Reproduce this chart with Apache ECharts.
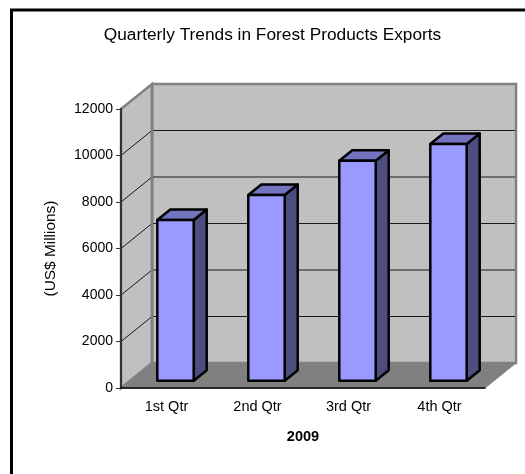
<!DOCTYPE html>
<html><head><meta charset="utf-8">
<style>html,body{margin:0;padding:0;background:#fff}#c{width:525px;height:474px}</style>
<script src="https://cdn.jsdelivr.net/npm/echarts@6/dist/echarts.min.js"></script>
</head><body><div id="c"></div>
<script>
const titleText = 'Quarterly Trends in Forest Products Exports';
const categories = ['1st Qtr', '2nd Qtr', '3rd Qtr', '4th Qtr'];
const exportsValues = [6910, 7990, 9460, 10180];
const yTicks = [0, 2000, 4000, 6000, 8000, 10000, 12000];
const yName = '(US$ Millions)';
const xName = '2009';

const DX = 31, DY = -25;        // depth of the floor
const BDX = 9, BDY = -7.3;      // bar front set back from the front edge
const SDX = 13, SDY = -10.5;    // bar depth
const FONT = '"Liberation Sans", Arial, sans-serif';

function renderWalls(params, api) {
  const band = api.size([1, 0])[0];
  const x0 = api.coord([0, 0])[0] - band / 2;
  const x1 = x0 + band * categories.length;
  const yB = api.coord([0, 0])[1];
  const yT = api.coord([0, 12000])[1];
  const poly = (pts, fill, stroke, lw) => ({
    type: 'polygon', shape: { points: pts },
    style: { fill: fill, stroke: stroke || null, lineWidth: lw || 0 }
  });
  const line = (pts, stroke, lw) => ({
    type: 'polyline', shape: { points: pts },
    style: { fill: null, stroke: stroke, lineWidth: lw }
  });
  const children = [
    poly([[x0 + DX, yT + DY], [x1 + DX, yT + DY], [x1 + DX, yB + DY], [x0 + DX, yB + DY]], '#c0c0c0', '#808080', 2.5),
    poly([[x0, yT], [x0 + DX, yT + DY], [x0 + DX, yB + DY], [x0, yB]], '#c0c0c0', '#808080', 2.5),
    poly([[x0, yB], [x0 + DX, yB + DY], [x1 + DX, yB + DY], [x1, yB]], '#808080', '#808080', 1)
  ];
  yTicks.slice(1, -1).forEach(v => {
    const y = api.coord([0, v])[1];
    children.push(line([[x0, y], [x0 + DX, y + DY], [x1 + DX - 1, y + DY]], '#1a1a1a', 1));
  });
  children.push(line([[x0 + DX, yT + DY], [x0 + DX, yB + DY]], '#808080', 2.5));
  return { type: 'group', children: children };
}

function renderBar(params, api) {
  const idx = api.value(0);
  const band = api.size([1, 0])[0];
  const w = band * 0.4;
  const c = api.coord([idx, api.value(1)]);
  const b = api.coord([idx, 0]);
  const l = c[0] - w / 2 + BDX, r = l + w;
  const t = c[1] + BDY, bt = b[1] + BDY;
  const st = { stroke: '#000', lineWidth: 2.5, lineJoin: 'round' };
  return { type: 'group', children: [
    { type: 'polygon', shape: { points: [[r, t], [r + SDX, t + SDY], [r + SDX, bt + SDY], [r, bt]] },
      style: Object.assign({ fill: '#4d4d80' }, st) },
    { type: 'polygon', shape: { points: [[l, t], [l + SDX, t + SDY], [r + SDX, t + SDY], [r, t]] },
      style: Object.assign({ fill: '#7373bf' }, st) },
    { type: 'polygon', shape: { points: [[l, t], [r, t], [r, bt], [l, bt]] },
      style: Object.assign({ fill: '#9999ff' }, st) }
  ] };
}

const chart = echarts.init(document.getElementById('c'), null, { renderer: 'canvas' });
chart.setOption({
  animation: false,
  backgroundColor: '#fff',
  textStyle: { fontFamily: FONT, color: '#000' },
  title: { text: titleText, left: 267.5, top: 22, textAlign: 'center',
    textStyle: { fontFamily: FONT, fontSize: 17.3, fontWeight: 'normal', color: '#000' } },
  grid: { left: 121, right: 40, top: 109, bottom: 86 },
  xAxis: {
    type: 'category', data: categories, z: 2,
    name: xName, nameLocation: 'middle', nameGap: 41,
    nameTextStyle: { fontFamily: FONT, fontSize: 14.5, fontWeight: 'bold', color: '#000' },
    axisLine: { onZero: false, lineStyle: { color: '#000', width: 1.5 } },
    axisTick: { alignWithLabel: false, length: 5, lineStyle: { color: '#333', width: 1 } },
    axisLabel: { fontFamily: FONT, fontSize: 14.5, color: '#000', margin: 11 },
    splitLine: { show: false }
  },
  yAxis: {
    type: 'value', min: 0, max: 12000, interval: 2000, z: 2,
    name: yName, nameLocation: 'middle', nameGap: 63, nameRotate: 90,
    nameTextStyle: { fontFamily: FONT, fontSize: 15.4, color: '#000' },
    axisLine: { show: true, lineStyle: { color: '#333', width: 2 } },
    axisTick: { show: true, length: 5, lineStyle: { color: '#333', width: 1 } },
    axisLabel: { fontFamily: FONT, fontSize: 14, color: '#000', margin: 8, formatter: v => String(v) },
    splitLine: { show: false }
  },
  graphic: [
    { type: 'polyline', silent: true, shape: { points: [[11.5, 474], [11.5, 10], [525, 10]] },
      style: { fill: null, stroke: '#000', lineWidth: 3 } }
  ],
  series: [
    { type: 'custom', name: 'walls', renderItem: renderWalls, data: [[0, 0]], clip: false, z: 1, silent: true },
    { type: 'custom', name: 'Exports', renderItem: renderBar, clip: false, z: 3, silent: true,
      data: exportsValues.map((v, i) => [i, v]), encode: { x: 0, y: 1 } }
  ]
});
</script></body></html>
